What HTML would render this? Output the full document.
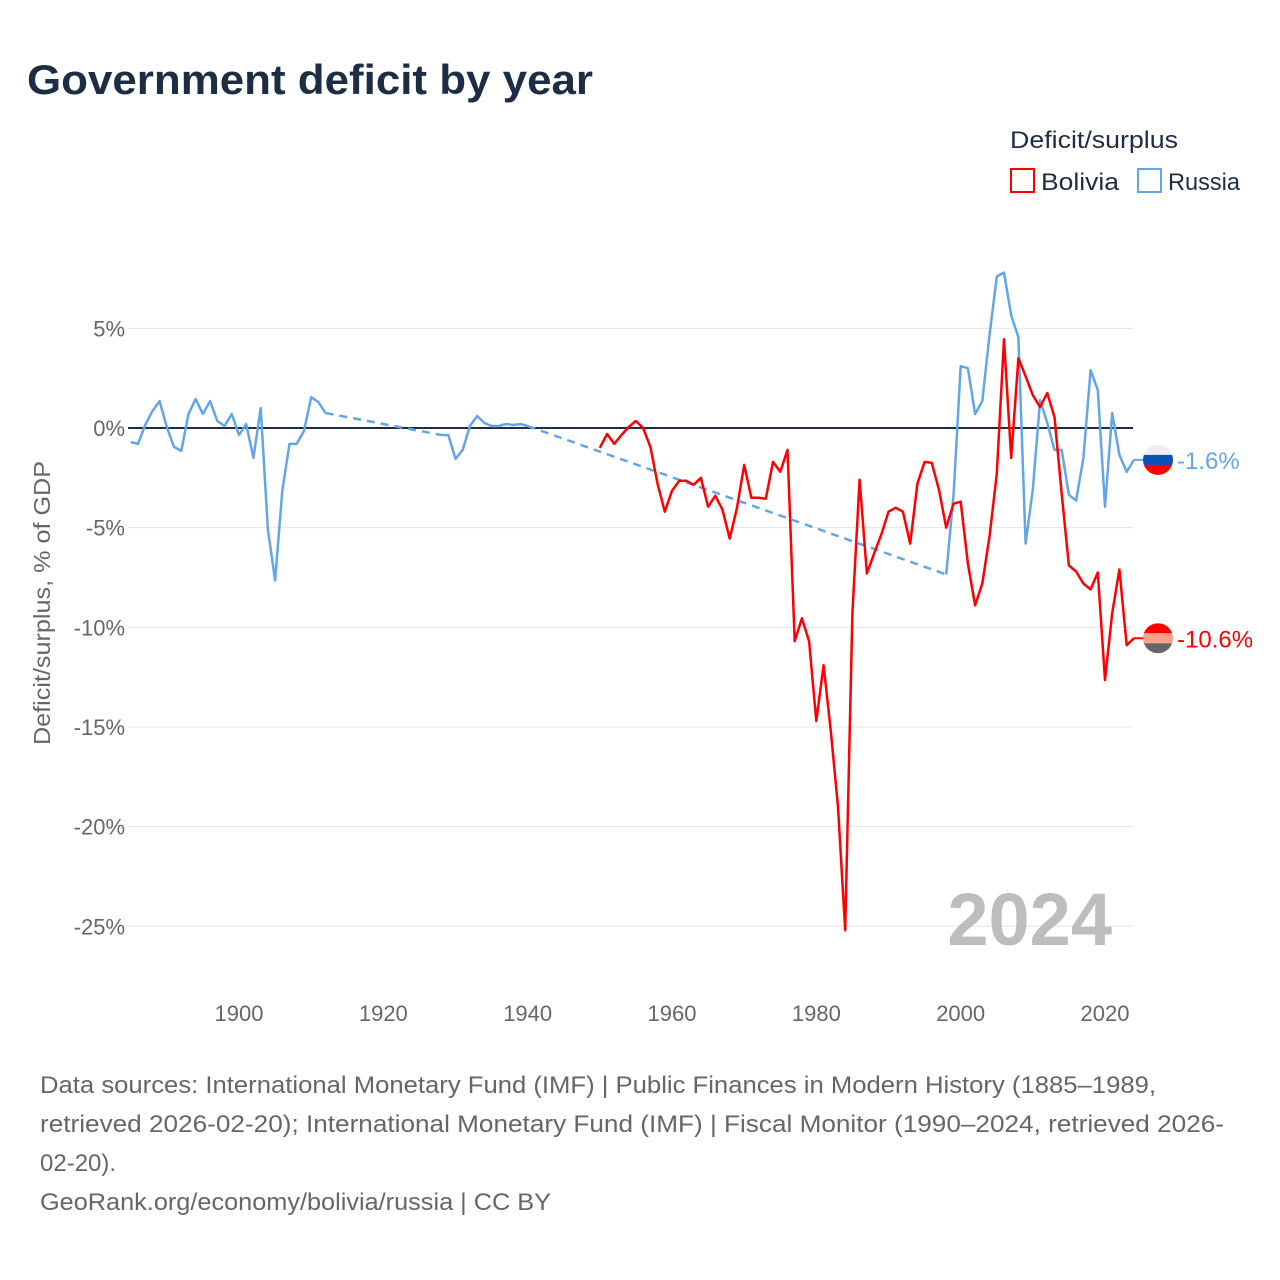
<!DOCTYPE html>
<html><head><meta charset="utf-8"><style>
html,body{margin:0;padding:0;background:#fff;}
svg{display:block;font-family:"Liberation Sans",sans-serif;}
</style></head><body>
<svg id="chart" width="1280" height="1280" viewBox="0 0 1280 1280">
<text x="27" y="94" font-size="42" font-weight="bold" fill="#1d2d44" textLength="566" lengthAdjust="spacingAndGlyphs">Government deficit by year</text>
<text x="1010" y="148" font-size="24" fill="#1d2d44" textLength="168" lengthAdjust="spacingAndGlyphs">Deficit/surplus</text>
<g><rect x="1011" y="169" width="23" height="23" fill="#fff" stroke="#ff0000" stroke-width="2"/><text x="1041" y="190" font-size="24" fill="#1d2d44" textLength="78" lengthAdjust="spacingAndGlyphs">Bolivia</text></g>
<g><rect x="1138" y="169" width="23" height="23" fill="#fff" stroke="#63a6e8" stroke-width="2"/><text x="1168" y="190" font-size="24" fill="#1d2d44" textLength="72" lengthAdjust="spacingAndGlyphs">Russia</text></g>
<g id="grid"></g><g id="yticks"></g><g id="xticks"></g>
<text transform="translate(50,603) rotate(-90)" text-anchor="middle" font-size="23" fill="#666" textLength="284" lengthAdjust="spacingAndGlyphs">Deficit/surplus, % of GDP</text>
<text x="1112" y="945" text-anchor="end" font-size="74" font-weight="bold" fill="#bdbdbd">2024</text>
<g id="series"></g>
<g font-size="24" fill="#666">
<text x="40" y="1093" textLength="1116" lengthAdjust="spacingAndGlyphs">Data sources: International Monetary Fund (IMF) | Public Finances in Modern History (1885–1989,</text>
<text x="40" y="1132" textLength="1184" lengthAdjust="spacingAndGlyphs">retrieved 2026-02-20); International Monetary Fund (IMF) | Fiscal Monitor (1990–2024, retrieved 2026-</text>
<text x="40" y="1171">02-20).</text>
<text x="40" y="1210" textLength="511" lengthAdjust="spacingAndGlyphs">GeoRank.org/economy/bolivia/russia | CC BY</text>
</g>
</svg>
<script>
const yTickValues=[5,0,-5,-10,-15,-20,-25];
const xTickValues=[1900,1920,1940,1960,1980,2000,2020];
const russiaYears=[1885,1886,1887,1888,1889,1890,1891,1892,1893,1894,1895,1896,1897,1898,1899,1900,1901,1902,1903,1904,1905,1906,1907,1908,1909,1910,1911,1912,1928,1929,1930,1931,1932,1933,1934,1935,1936,1937,1938,1939,1940,1998,1999,2000,2001,2002,2003,2004,2005,2006,2007,2008,2009,2010,2011,2012,2013,2014,2015,2016,2017,2018,2019,2020,2021,2022,2023,2024];
const russiaValues=[-0.7,-0.8,0.15,0.85,1.35,0.05,-0.95,-1.15,0.7,1.45,0.7,1.35,0.35,0.1,0.7,-0.35,0.2,-1.5,1.0,-5.1,-7.65,-3.15,-0.8,-0.8,-0.15,1.55,1.3,0.75,-0.35,-0.35,-1.55,-1.1,0.1,0.6,0.25,0.1,0.1,0.2,0.15,0.2,0.1,-7.35,-3.4,3.1,3.0,0.7,1.35,4.65,7.6,7.8,5.65,4.55,-5.8,-3.1,1.4,0.25,-1.1,-1.1,-3.35,-3.65,-1.5,2.9,1.9,-3.95,0.75,-1.35,-2.2,-1.6];
const boliviaYears=[1950,1951,1952,1953,1954,1955,1956,1957,1958,1959,1960,1961,1962,1963,1964,1965,1966,1967,1968,1969,1970,1971,1972,1973,1974,1975,1976,1977,1978,1979,1980,1981,1982,1983,1984,1985,1986,1987,1988,1989,1990,1991,1992,1993,1994,1995,1996,1997,1998,1999,2000,2001,2002,2003,2004,2005,2006,2007,2008,2009,2010,2011,2012,2013,2014,2015,2016,2017,2018,2019,2020,2021,2022,2023,2024];
const boliviaValues=[-1.0,-0.3,-0.8,-0.35,0.05,0.35,0,-0.95,-2.8,-4.2,-3.15,-2.65,-2.65,-2.85,-2.5,-3.95,-3.4,-4.1,-5.55,-4.0,-1.85,-3.5,-3.5,-3.55,-1.7,-2.2,-1.1,-10.7,-9.55,-10.7,-14.7,-11.9,-15.2,-19.0,-25.2,-9.3,-2.6,-7.3,-6.3,-5.35,-4.2,-4.0,-4.2,-5.8,-2.8,-1.7,-1.75,-3.1,-5.0,-3.8,-3.7,-6.8,-8.9,-7.8,-5.45,-2.3,4.45,-1.5,3.5,2.6,1.65,1.05,1.75,0.55,-3.3,-6.9,-7.2,-7.8,-8.1,-7.25,-12.65,-9.3,-7.1,-10.9,-10.55];
const x=yr=>239+(yr-1900)*7.2167;
const y=v=>428-v*19.93;
const NS='http://www.w3.org/2000/svg';
function mk(tag,attrs,parent){const e=document.createElementNS(NS,tag);for(const k in attrs)e.setAttribute(k,attrs[k]);parent.appendChild(e);return e;}
const grid=document.getElementById('grid'),yt=document.getElementById('yticks'),xt=document.getElementById('xticks'),ser=document.getElementById('series');
yTickValues.forEach(v=>{
  if(v!==0){const g=mk('line',{x1:128,x2:1133,y1:y(v),y2:y(v),stroke:'#e6e6e6','stroke-width':1},grid);
  
  }
  const t=mk('text',{x:125,y:y(v)+8,'text-anchor':'end','font-size':22,fill:'#666'},yt);
  t.textContent=v+'%';
  
  
});
xTickValues.forEach(v=>{
  const t=mk('text',{x:x(v),y:1021,'text-anchor':'middle','font-size':22,fill:'#666'},xt);
  t.textContent=v;
  
  
});
const zl=mk('line',{x1:128,x2:1133,y1:y(0),y2:y(0),stroke:'#1d2d44','stroke-width':2},grid);


function draw(years,vals,color,name){
  const g=mk('g',{},ser);
  
  
  let seg=[];const segs=[];
  for(let i=0;i<years.length;i++){
    if(i>0&&years[i]-years[i-1]>1){
      segs.push(seg);seg=[];
      const d=mk('line',{x1:x(years[i-1]),y1:y(vals[i-1]),x2:x(years[i]),y2:y(vals[i]),stroke:color,'stroke-width':2.5,'stroke-dasharray':'8,6'},g);
      
      
    }
    seg.push(x(years[i]).toFixed(1)+','+y(vals[i]).toFixed(1));
  }
  segs.push(seg);
  segs.forEach(s=>{const p=mk('polyline',{points:s.join(' '),fill:'none',stroke:color,'stroke-width':2.5,'stroke-linejoin':'round'},g);
  
  });
  const lx=x(years[years.length-1]),ly=y(vals[vals.length-1]);
  const c=mk('line',{x1:lx,y1:ly,x2:1145,y2:ly,stroke:color,'stroke-width':2},g);
  return ly;
}
const ry=draw(russiaYears,russiaValues,'#63a6e8','russia');
const by=draw(boliviaYears,boliviaValues,'#ff0000','bolivia');
function marker(cy,cols,label,color,name){
  const g=mk('g',{},ser);
  
  
  const id='clip'+name;
  const cp=mk('clipPath',{id:id},g);mk('circle',{cx:1158,cy:cy,r:15},cp);
  const gg=mk('g',{'clip-path':'url(#'+id+')'},g);
  cols.forEach((c,i)=>mk('rect',{x:1143,y:cy-15+i*10,width:30,height:10.1,fill:c},gg));
  const t=mk('text',{x:1177,y:cy+9,'font-size':24,fill:color},g);
  t.textContent=label;
}
marker(ry,['#eeeeee','#0a52b5','#ff0000'],'-1.6%','#63a6e8','russia');
marker(by,['#ff0000','#ffa08a','#666666'],'-10.6%','#ff0000','bolivia');
</script>
</body></html>
